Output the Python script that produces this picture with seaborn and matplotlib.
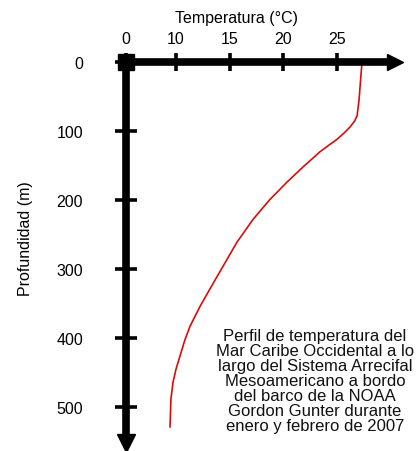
import seaborn as sns
import matplotlib.pyplot as plt
import pandas as pd

# perfil de temperatura
depth = [0, 25, 54, 78, 86, 94, 102, 112, 121, 130, 152, 174, 199, 228, 261, 296, 325,
         354, 383, 404, 426, 445, 464, 488, 529]
temp = [27.33, 27.2, 27.06, 26.87, 26.62, 26.22, 25.72, 25.0, 24.2, 23.42, 21.84, 20.34,
        18.76, 17.18, 15.68, 14.38, 13.3, 12.24, 11.30, 10.80, 10.37, 10.0, 9.72, 9.53, 9.44]

temp_ticks = [10, 15, 20, 25]
depth_ticks = [0, 100, 200, 300, 400, 500]
x_origin = 5.34   # the axis is broken: "0" sits here

note = ("Perfil de temperatura del\nMar Caribe Occidental a lo\nlargo del Sistema Arrecifal\n"
        "Mesoamericano a bordo\ndel barco de la NOAA\nGordon Gunter durante\nenero y febrero de 2007")

sns.set_theme(style="white")
plt.rcParams['font.family'] = ['Liberation Sans', 'DejaVu Sans']

df = pd.DataFrame({'temp': temp, 'depth': depth})

fig = plt.figure(figsize=(4.18, 4.52), dpi=100)
ax = fig.add_axes([0.3014, 0.0177, 0.6435, 0.8429])

sns.lineplot(data=df, x='temp', y='depth', sort=False, estimator=None,
             color='#dd0a0a', lw=1.2, ax=ax)

ax.set_xlim(x_origin, 30.4)
ax.set_ylim(552, 0)

for s in ['right', 'bottom']:
    ax.spines[s].set_visible(False)
for s in ['left', 'top']:
    ax.spines[s].set_linewidth(5.5)
    ax.spines[s].set_color('black')
    ax.spines[s].set_capstyle('butt')

ax.xaxis.tick_top()
ax.set_xticks([x_origin] + temp_ticks)
ax.set_xticklabels(['0'] + [str(t) for t in temp_ticks])
ax.set_yticks(depth_ticks)
ax.set_yticklabels([str(d) for d in depth_ticks])
ax.tick_params(axis='x', direction='inout', length=13, width=2.6, color='black',
               pad=5, labelsize=11.5, labelcolor='black', top=True, bottom=False)
ax.tick_params(axis='y', direction='inout', length=16, width=2.6, color='black',
               pad=23, labelsize=11.5, labelcolor='black', left=True)

# flechas de los ejes y cuadro en el origen
ax.plot(1, 1, marker='>', ms=12, color='black', transform=ax.transAxes, clip_on=False)
ax.plot(0, 0, marker='v', ms=13, color='black', transform=ax.transAxes, clip_on=False)
ax.plot(0, 1, marker='s', ms=12, color='black', transform=ax.transAxes, clip_on=False)

ax.xaxis.set_label_position('top')
ax.set_xlabel('Temperatura (°C)', fontsize=11.5, color='black')
ax.xaxis.set_label_coords(0.4126, 1.105)
ax.set_ylabel('Profundidad (m)', fontsize=11.5, color='black')
ax.yaxis.set_label_coords(-0.346, 0.54)

ax.text(0.703, 0.165, note, transform=ax.transAxes, ha='center', va='center',
        multialignment='center', fontsize=12, linespacing=1.0, color='#111111')

fig.savefig('out.png', dpi=100)
